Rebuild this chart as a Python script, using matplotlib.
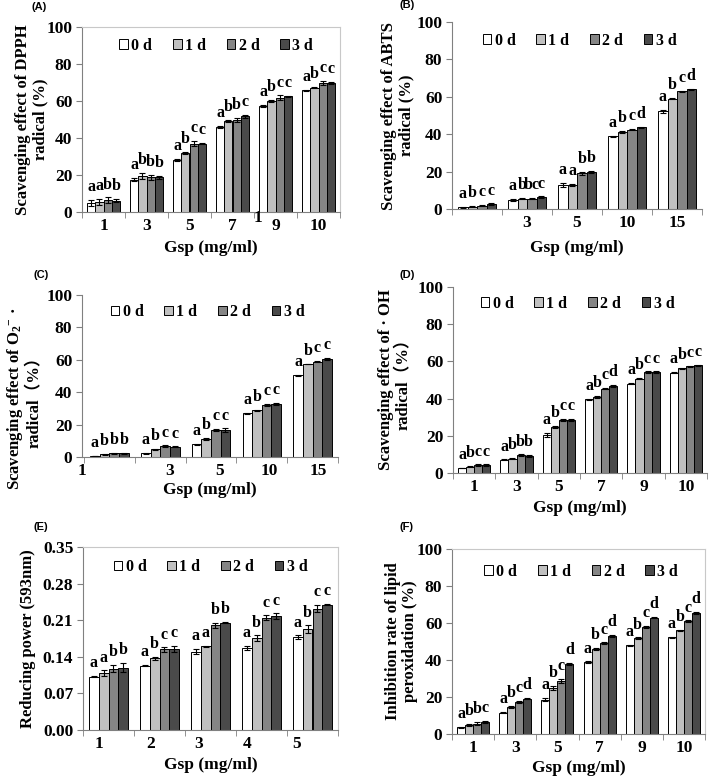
import numpy as np
import matplotlib
matplotlib.use("Agg")
import matplotlib.pyplot as plt

# fonts: Times-like bold everywhere, CJK fallback for the full-width brackets
plt.rcParams['font.family'] = ['Liberation Serif', 'Noto Sans CJK SC']
plt.rcParams['font.weight'] = 'bold'
plt.rcParams['mathtext.fontset'] = 'custom'
plt.rcParams['mathtext.rm'] = 'Liberation Serif:bold'
plt.rcParams['mathtext.it'] = 'Liberation Serif:italic:bold'
plt.rcParams['mathtext.bf'] = 'Liberation Serif:bold'

days = ["0 d", "1 d", "2 d", "3 d"]
bar_colors = ["white", "#c0c0c0", "#858585", "#4a4a4a"]

# (A) DPPH, rows = 0 d, 1 d, 2 d, 3 d
dpph_ticks = ["1", "3", "5", "7", "9", "10"]
dpph_mean = [[5.0, 17.5, 28.2, 46.0, 57.5, 65.8],
             [5.5, 19.6, 32.0, 49.2, 60.0, 67.2],
             [6.5, 18.7, 37.0, 49.7, 61.8, 69.7],
             [6.1, 18.7, 37.0, 51.7, 62.5, 69.7]]
dpph_err = [[1.6, 1.0, 0.6, 0.4, 0.5, 0.4],
            [1.5, 1.5, 0.4, 0.8, 0.6, 0.4],
            [1.4, 1.3, 1.2, 1.3, 1.2, 1.2],
            [0.8, 0.8, 0.5, 1.0, 0.4, 0.4]]
dpph_letters = ["a a b b", "a b b b", "a b c c", "a b b c", "a b c c", "a b c c"]

# (B) ABTS
abts_ticks = ["", "3", "5", "10", "15"]
abts_mean = [[1.0, 4.8, 12.8, 39.0, 52.2],
             [1.3, 5.4, 13.0, 41.0, 59.0],
             [1.8, 5.5, 19.0, 42.5, 63.0],
             [2.6, 6.2, 19.8, 43.6, 64.0]]
abts_err = [[0.2, 0.4, 1.2, 0.3, 1.0],
            [0.2, 0.3, 0.6, 0.6, 0.3],
            [0.3, 0.3, 0.8, 0.4, 0.3],
            [0.4, 0.5, 0.4, 0.3, 0.4]]
abts_letters = ["a b c c", "a b bc c", "a a b b", "a b c d", "a b c d"]

# (C) superoxide anion
o2_ticks = ["1", "3", "5", "10", "15"]
o2_mean = [[0.6, 2.3, 7.8, 27.0, 50.6],
           [1.6, 4.7, 11.1, 28.8, 57.4],
           [2.3, 6.6, 16.5, 32.0, 58.8],
           [2.3, 6.2, 16.4, 32.7, 60.5]]
o2_err = [[0.2, 0.3, 0.3, 0.4, 0.3],
          [0.3, 0.5, 0.6, 0.3, 0.3],
          [0.4, 0.5, 0.6, 0.6, 0.4],
          [0.4, 0.3, 1.2, 0.6, 0.5]]
o2_letters = ["a b b b", "a b c c", "a b c c", "a b c c", "a b c c"]

# (D) hydroxyl radical
oh_ticks = ["1", "3", "5", "7", "9", "10"]
oh_mean = [[2.7, 7.1, 20.5, 39.6, 48.0, 53.9],
           [3.4, 7.7, 24.8, 40.9, 50.7, 56.4],
           [4.3, 9.5, 28.4, 45.4, 54.3, 57.3],
           [4.3, 9.1, 28.4, 46.8, 54.3, 57.9]]
oh_err = [[0.2, 0.2, 1.0, 0.3, 0.3, 0.3],
          [0.2, 0.3, 0.4, 0.4, 0.4, 0.3],
          [0.3, 0.5, 0.5, 0.4, 0.3, 0.3],
          [0.3, 0.4, 0.5, 0.4, 0.3, 0.3]]
oh_letters = ["a b c c", "a b b b", "a b c c", "a b c d", "a b c c", "a b c c"]

# (E) reducing power
rp_ticks = ["1", "2", "3", "4", "5"]
rp_mean = [[0.102, 0.123, 0.150, 0.157, 0.178],
           [0.109, 0.137, 0.160, 0.176, 0.193],
           [0.117, 0.154, 0.200, 0.215, 0.232],
           [0.119, 0.155, 0.205, 0.218, 0.240]]
rp_err = [[0.001, 0.001, 0.005, 0.004, 0.003],
          [0.005, 0.003, 0.001, 0.005, 0.007],
          [0.007, 0.004, 0.005, 0.004, 0.007],
          [0.009, 0.005, 0.001, 0.005, 0.001]]
rp_letters = ["a a b b", "a b c c", "a a b b", "a b c c", "a b c c"]

# (F) lipid peroxidation
lp_ticks = ["1", "3", "5", "7", "9", "10"]
lp_mean = [[3.6, 11.6, 18.5, 38.9, 48.0, 52.4],
           [4.9, 14.5, 24.9, 46.0, 51.8, 56.0],
           [5.6, 17.3, 28.5, 49.0, 57.8, 60.9],
           [6.5, 19.1, 37.8, 53.0, 62.9, 65.5]]
lp_err = [[0.4, 0.3, 0.8, 0.3, 0.3, 0.3],
          [0.4, 0.5, 1.0, 0.4, 0.4, 0.4],
          [1.0, 0.5, 1.2, 0.5, 0.5, 0.5],
          [0.5, 0.4, 0.4, 0.4, 0.4, 0.4]]
lp_letters = ["a b b c", "a b c d", "a b c d", "a b c d", "a b c d", "a b c d"]

W, H = 709, 779
fig = plt.figure(figsize=(W / 100, H / 100), dpi=100)


def make_axes(left, right, top, bottom):
    # pixel box -> figure fraction
    return fig.add_axes([left / W, 1 - bottom / H, (right - left) / W, (bottom - top) / H])


def draw_panel(ax, means, errs, letters, ticks, tickpos, ymax, ystep, yfmt,
               ylabel, ylab_xy, xlab_y, legend_xy, frame):
    n = len(letters)
    x = np.arange(n)
    w = 0.19
    for i in range(4):
        xs = x + (i - 1.5) * w
        ax.bar(xs, means[i], w, yerr=errs[i], color=bar_colors[i], edgecolor='black',
               linewidth=0.7, capsize=2, label=days[i],
               error_kw=dict(elinewidth=0.8, capthick=0.8, ecolor='black'))
        for xx, m, e, lt in zip(xs, means[i], errs[i], letters):
            ax.annotate(lt.split()[i], (xx, m + e), xytext=(0, 3.5), textcoords='offset points',
                        ha='center', va='bottom', fontsize=11.5, fontweight='bold')

    ax.set_xlim(-0.5, n - 0.5)
    ax.set_ylim(0, ymax)
    ax.set_yticks(np.arange(0, ymax + ystep / 2, ystep))
    ax.set_yticklabels([yfmt.format(v) for v in np.arange(0, ymax + ystep / 2, ystep)])
    ax.set_xticks(tickpos)
    ax.set_xticklabels(ticks)
    ax.set_xticks(np.arange(n + 1) - 0.5, minor=True)
    ax.tick_params(axis='x', which='major', length=0, pad=4, labelsize=12.5)
    ax.tick_params(axis='x', which='minor', length=4, color='#808080', direction='out')
    ax.tick_params(axis='y', length=4, color='#808080', pad=3, labelsize=12.5)
    for lab in ax.get_xticklabels() + ax.get_yticklabels():
        lab.set_fontweight('bold')

    ax.spines['left'].set_color('#808080')
    ax.spines['bottom'].set_color('#808080')
    if frame:
        ax.spines['top'].set_color('#c8c8c8')
        ax.spines['right'].set_color('#c8c8c8')
    else:
        ax.spines['top'].set_visible(False)
        ax.spines['right'].set_visible(False)

    ax.set_ylabel(ylabel, fontsize=12, fontweight='bold', va='center', linespacing=1.1)
    ax.yaxis.set_label_coords(*ylab_xy)
    ax.set_xlabel("Gsp (mg/ml)", fontsize=12.5, fontweight='bold', va='center')
    ax.xaxis.set_label_coords(0.5, xlab_y)

    ax.legend(ncol=4, loc='center', bbox_to_anchor=legend_xy, frameon=False,
              handlelength=0.55, handleheight=0.55, handletextpad=0.2, columnspacing=1.3,
              prop=dict(weight='bold', size=11.5), borderaxespad=0)


# (A)
axA = make_axes(82, 340, 27, 212)
draw_panel(axA, dpph_mean, dpph_err, dpph_letters, dpph_ticks, np.arange(6), 100, 20, "{:.0f}",
           "Scavenging effect of DPPH\nradical (%)", (-0.194, 0.5), -0.195, (0.52, 0.90), True)
# stray "1" next to the 9
axA.text(3.59, -0.03, "1", transform=axA.get_xaxis_transform(), ha='center', va='center',
         fontsize=12.5, fontweight='bold')

# (B)
axB = make_axes(452, 702, 22, 209)
draw_panel(axB, abts_mean, abts_err, abts_letters, abts_ticks, np.arange(5), 100, 20, "{:.0f}",
           "Scavenging effect of ABTS\nradical (%)", (-0.216, 0.5), -0.208, (0.51, 0.90), False)

# (C)
axC = make_axes(82, 338, 295, 457)
draw_panel(axC, o2_mean, o2_err, o2_letters, o2_ticks, [-0.54, 1.19, 2.17, 3.15, 4.11], 100, 20,
           "{:.0f}", "Scavenging effect of O$_2$$^{-}$ \u00b7\nradical\uff08%\uff09", (-0.227, 0.36),
           -0.205, (0.49, 0.895), False)

# (D)
axD = make_axes(453, 707, 287, 473)
draw_panel(axD, oh_mean, oh_err, oh_letters, oh_ticks, np.arange(6), 100, 20, "{:.0f}",
           "Scavenging effect of \u00b7 OH\nradical\uff08%\uff09", (-0.228, 0.5), -0.19,
           (0.49, 0.91), False)

# (E)
axE = make_axes(83, 338, 547, 730)
draw_panel(axE, rp_mean, rp_err, rp_letters, rp_ticks, [-0.18, 0.82, 1.76, 2.72, 3.68], 0.35, 0.07,
           "{:.2f}", "Reducing power (593nm)", (-0.216, 0.5), -0.19, (0.50, 0.89), True)

# (F)
axF = make_axes(452, 705, 549, 734)
draw_panel(axF, lp_mean, lp_err, lp_letters, lp_ticks, np.arange(6), 100, 20, "{:.0f}",
           "Inhibition rate of lipid\nperoxidation (%)", (-0.2, 0.5), -0.185, (0.51, 0.876), True)

# panel letters
for lab, px, py in [("(A)", 32, 7), ("(B)", 400, 5), ("(C)", 33, 275),
                    ("(D)", 400, 275), ("(E)", 33, 527), ("(F)", 400, 527)]:
    fig.text(px / W, 1 - py / H, lab, family='Liberation Sans', fontweight='bold',
             fontsize=8, va='center', ha='left')

fig.savefig("out.png", dpi=100)
